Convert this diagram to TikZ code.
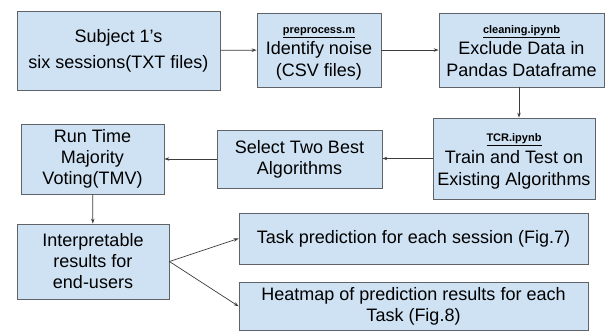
\documentclass[tikz,border=0pt]{standalone}
\usepackage{fontspec}
\setmainfont{Liberation Sans}
\usetikzlibrary{arrows.meta}
\definecolor{boxfill}{HTML}{CFE2F3}
\definecolor{boxline}{HTML}{5F6368}
\definecolor{arrline}{HTML}{3C3C3C}
\begin{document}
\begin{tikzpicture}[x=1pt,y=1pt,
    stage/.style={draw=boxline,fill=boxfill,line width=0.8pt,align=center,
      inner sep=0pt,font=\fontsize{18}{21}\selectfont},
    tagtext/.style={anchor=base,inner sep=0pt,font=\fontsize{11}{13}\selectfont\bfseries},
    bodytext/.style={anchor=base,inner sep=0pt,font=\fontsize{18}{21}\selectfont},
    flow/.style={draw=arrline,line width=0.7pt,-{Stealth[length=5pt,width=3.5pt]}}]

% Fix the page size (image is 605 x 334)
\useasboundingbox (0,0) rectangle (605,334);

% First row of boxes
\node[stage,minimum width=203,minimum height=79,font=\fontsize{18}{26}\selectfont] (subj) at (118.5,283.5)
  {Subject 1's\\six sessions(TXT files)};
\node[stage,minimum width=124,minimum height=74] (prep) at (319,284) {};
\node[stage,minimum width=165,minimum height=74] (clean) at (521.5,284) {};

% Second row
\node[stage,minimum width=162,minimum height=81] (tcr) at (514,175.5) {};
\node[stage,minimum width=165,minimum height=58] (sel) at (299.5,175)
  {Select Two Best\\Algorithms};
\node[stage,minimum width=143,minimum height=70] (tmv) at (92.5,175)
  {Run Time\\Majority\\Voting(TMV)};

% Texts of the boxes with a file name on top
\node[tagtext] (prep tag) at ([yshift=-21pt]prep.north) {\underline{preprocess.m}};
\node[bodytext] (prep l1) at ([yshift=-42pt]prep.north) {Identify noise};
\node[bodytext] (prep l2) at ([yshift=-64pt]prep.north) {(CSV files)};
\node[tagtext] (clean tag) at ([yshift=-21pt]clean.north) {\underline{cleaning.ipynb}};
\node[bodytext] (clean l1) at ([yshift=-42pt]clean.north) {Exclude Data in};
\node[bodytext] (clean l2) at ([yshift=-64pt]clean.north) {Pandas Dataframe};
\node[tagtext] (tcr tag) at ([yshift=-24pt]tcr.north) {\underline{TCR.ipynb}};
\node[bodytext] (tcr l1) at ([yshift=-46pt]tcr.north) {Train and Test on};
\node[bodytext] (tcr l2) at ([yshift=-68pt]tcr.north) {Existing Algorithms};

% Third row (results)
\node[stage,minimum width=152,minimum height=75] (interp) at (93,72.5)
  {Interpretable\\results for\\end-users};
\node[stage,minimum width=349,minimum height=51] (task) at (413.5,95.5)
  {Task prediction for each session (Fig.7)};
\node[stage,minimum width=349,inner ysep=5pt,anchor=north] (heat) at (413.5,52)
  {Heatmap of prediction results for each\\Task (Fig.8)};

% Connectors
\draw[flow] (subj) -- (prep);
\draw[flow] (prep) -- (clean);
\draw[flow] ([xshift=-2.5pt]clean.south) -- ([xshift=-2.5pt]clean.south |- tcr.north);
\draw[flow] (tcr.west) -- (tcr.west -| sel.east);
\draw[flow] (sel) -- (tmv);
\draw[flow] (tmv) -- (interp);
\draw[flow] (interp.east) -- (task.west);
\draw[flow] (interp.east) -- (heat.west);

\end{tikzpicture}
\end{document}
